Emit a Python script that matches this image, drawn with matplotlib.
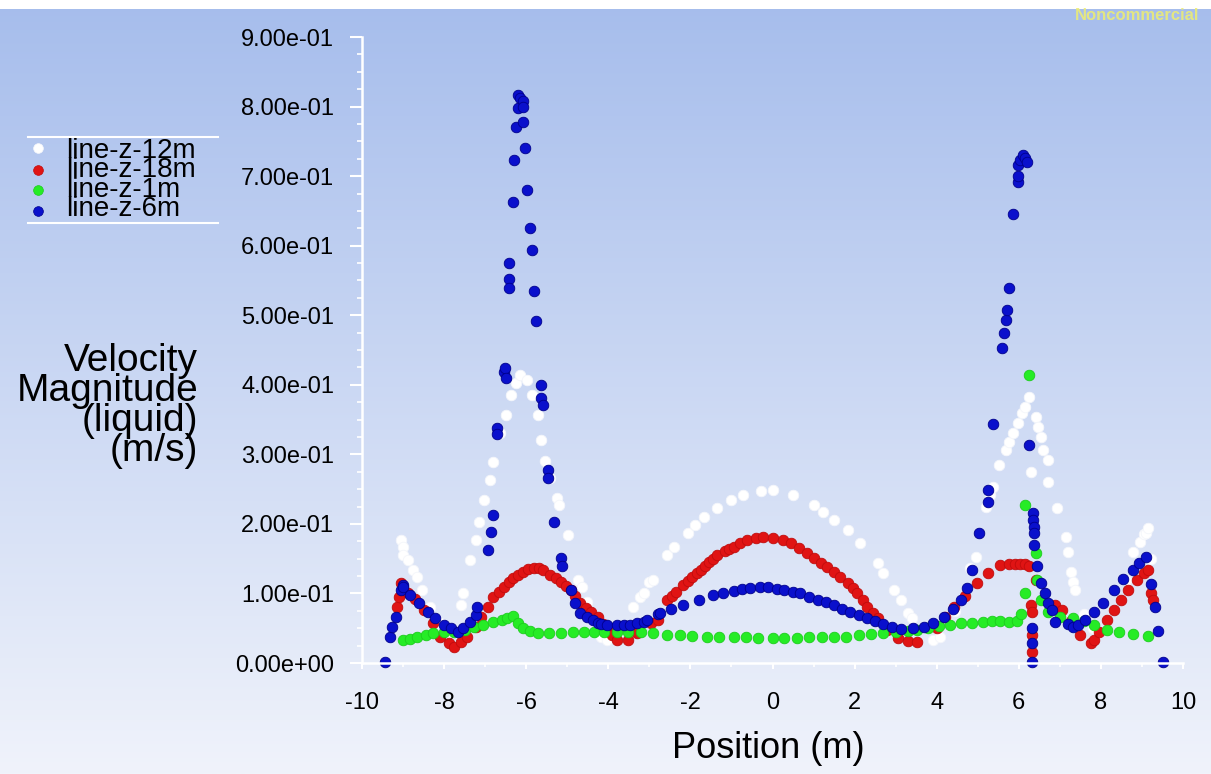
import numpy as np
import matplotlib.pyplot as plt
from matplotlib.ticker import MultipleLocator, FormatStrFormatter
from matplotlib.lines import Line2D

plt.rcParams['font.family'] = ['Liberation Sans', 'DejaVu Sans']
plt.rcParams['axes.unicode_minus'] = False

# velocity magnitude (m/s) along each line, as (position, value)
white_12m = [(-9.06, 0.177), (-9.01, 0.167), (-8.99, 0.155), (-8.87, 0.148), (-8.75, 0.134), (-8.65, 0.124),
             (-8.53, 0.105), (-8.35, 0.080), (-8.10, 0.058), (-7.85, 0.045), (-7.60, 0.083), (-7.53, 0.100),
             (-7.36, 0.148), (-7.23, 0.177), (-7.16, 0.203), (-7.04, 0.234), (-6.87, 0.263), (-6.80, 0.289),
             (-6.65, 0.330), (-6.50, 0.357), (-6.38, 0.385), (-6.26, 0.403), (-6.14, 0.414), (-5.97, 0.407),
             (-5.85, 0.385), (-5.72, 0.357), (-5.63, 0.320), (-5.53, 0.290), (-5.41, 0.266), (-5.24, 0.237),
             (-5.19, 0.227), (-4.99, 0.184), (-4.73, 0.119), (-4.63, 0.109), (-4.51, 0.088), (-4.36, 0.066),
             (-4.19, 0.037), (-4.02, 0.033), (-3.78, 0.040), (-3.53, 0.052), (-3.39, 0.080), (-3.22, 0.095),
             (-3.14, 0.100), (-3.02, 0.116), (-2.92, 0.119), (-2.56, 0.155), (-2.41, 0.167), (-2.07, 0.187),
             (-1.88, 0.198), (-1.68, 0.210), (-1.34, 0.223), (-1.02, 0.234), (-0.71, 0.241), (-0.29, 0.247),
             (0.00, 0.249), (0.51, 0.241), (1.00, 0.227), (1.24, 0.217), (1.49, 0.206), (1.83, 0.191),
             (2.14, 0.173), (2.56, 0.144), (2.70, 0.129), (2.95, 0.105), (3.12, 0.091), (3.29, 0.072),
             (3.41, 0.065), (3.92, 0.033), (4.09, 0.037), (4.45, 0.075), (4.82, 0.137), (4.95, 0.152),
             (5.19, 0.224), (5.31, 0.242), (5.38, 0.253), (5.51, 0.285), (5.68, 0.306), (5.75, 0.318),
             (5.85, 0.331), (5.97, 0.345), (6.09, 0.359), (6.16, 0.368), (6.24, 0.382), (6.29, 0.275),
             (6.41, 0.354), (6.46, 0.339), (6.53, 0.325), (6.60, 0.306), (6.70, 0.292), (6.72, 0.260),
             (6.94, 0.223), (7.14, 0.181), (7.19, 0.160), (7.26, 0.131), (7.33, 0.116), (7.38, 0.105),
             (7.60, 0.070), (7.80, 0.050), (8.60, 0.120), (8.79, 0.160), (8.96, 0.174), (9.04, 0.185),
             (9.09, 0.187), (9.14, 0.194), (9.21, 0.150)]

red_18m = [(-9.14, 0.080), (-9.11, 0.095), (-9.06, 0.115), (-8.99, 0.108), (-8.87, 0.100), (-8.70, 0.092),
           (-8.50, 0.076), (-8.28, 0.058), (-8.09, 0.037), (-7.89, 0.029), (-7.77, 0.023), (-7.60, 0.030),
           (-7.43, 0.037), (-7.23, 0.052), (-7.11, 0.066), (-6.94, 0.080), (-6.80, 0.095), (-6.67, 0.102),
           (-6.55, 0.109), (-6.43, 0.116), (-6.31, 0.122), (-6.19, 0.127), (-6.07, 0.131), (-5.95, 0.135),
           (-5.82, 0.137), (-5.70, 0.136), (-5.60, 0.134), (-5.41, 0.127), (-5.28, 0.122), (-5.16, 0.116),
           (-5.04, 0.111), (-4.92, 0.105), (-4.80, 0.096), (-4.68, 0.086), (-4.55, 0.079), (-4.43, 0.073),
           (-4.26, 0.066), (-4.14, 0.056), (-4.02, 0.047), (-3.90, 0.040), (-3.78, 0.033), (-3.53, 0.033),
           (-3.29, 0.043), (-2.97, 0.058), (-2.80, 0.062), (-2.56, 0.091), (-2.45, 0.097), (-2.35, 0.102),
           (-2.17, 0.112), (-2.06, 0.118), (-1.95, 0.123), (-1.85, 0.129), (-1.75, 0.134), (-1.65, 0.140),
           (-1.55, 0.145), (-1.45, 0.150), (-1.34, 0.155), (-1.15, 0.161), (-1.05, 0.164), (-0.95, 0.167),
           (-0.80, 0.172), (-0.61, 0.177), (-0.40, 0.180), (-0.22, 0.181), (0.02, 0.180), (0.25, 0.177),
           (0.44, 0.173), (0.65, 0.166), (0.85, 0.158), (1.00, 0.151), (1.17, 0.144), (1.33, 0.138),
           (1.49, 0.131), (1.65, 0.123), (1.83, 0.115), (1.95, 0.108), (2.07, 0.100), (2.20, 0.090),
           (2.31, 0.080), (2.44, 0.072), (2.56, 0.065), (2.80, 0.048), (3.05, 0.036), (3.30, 0.032),
           (3.53, 0.030), (4.00, 0.050), (4.20, 0.066), (4.41, 0.080), (4.70, 0.097), (4.99, 0.115),
           (5.24, 0.129), (5.55, 0.141), (5.75, 0.142), (5.90, 0.143), (6.04, 0.143), (6.16, 0.142),
           (6.26, 0.140), (6.41, 0.120), (6.29, 0.083), (6.33, 0.073), (6.33, 0.040), (6.33, 0.016),
           (6.89, 0.083), (7.06, 0.076), (7.26, 0.060), (7.50, 0.040), (7.75, 0.029), (7.82, 0.033),
           (7.95, 0.045), (8.16, 0.062), (8.31, 0.076), (8.48, 0.090), (8.67, 0.105), (8.89, 0.119),
           (9.04, 0.129), (9.14, 0.134), (9.21, 0.100), (9.28, 0.090)]

green_1m = [(-9.01, 0.033), (-8.82, 0.035), (-8.65, 0.037), (-8.45, 0.040), (-8.26, 0.043), (-8.00, 0.044),
            (-7.77, 0.045), (-7.50, 0.048), (-7.28, 0.052), (-7.05, 0.055), (-6.80, 0.059), (-6.60, 0.062),
            (-6.46, 0.065), (-6.31, 0.068), (-6.20, 0.058), (-6.07, 0.050), (-5.90, 0.046), (-5.72, 0.043),
            (-5.45, 0.043), (-5.16, 0.043), (-4.85, 0.044), (-4.60, 0.045), (-4.36, 0.045), (-4.10, 0.045),
            (-3.80, 0.045), (-3.53, 0.045), (-3.20, 0.044), (-2.90, 0.043), (-2.56, 0.040), (-2.25, 0.040),
            (-1.95, 0.039), (-1.60, 0.038), (-1.30, 0.038), (-0.95, 0.037), (-0.65, 0.037), (-0.35, 0.036),
            (0.00, 0.036), (0.27, 0.036), (0.60, 0.036), (0.90, 0.037), (1.20, 0.037), (1.49, 0.037),
            (1.80, 0.038), (2.10, 0.040), (2.40, 0.042), (2.70, 0.043), (3.00, 0.045), (3.30, 0.046),
            (3.53, 0.047), (3.80, 0.050), (4.05, 0.053), (4.33, 0.055), (4.60, 0.057), (4.85, 0.058),
            (5.14, 0.059), (5.35, 0.060), (5.55, 0.060), (5.75, 0.059), (5.95, 0.060), (6.06, 0.070),
            (6.14, 0.100), (6.16, 0.227), (6.24, 0.414), (6.41, 0.158), (6.45, 0.120), (6.55, 0.090),
            (6.72, 0.073), (7.00, 0.066), (7.33, 0.065), (7.60, 0.060), (7.82, 0.055), (8.16, 0.047),
            (8.43, 0.045), (8.77, 0.042), (9.14, 0.039)]

blue_6m = [(-9.43, 0.001), (-9.31, 0.037), (-9.26, 0.052), (-9.18, 0.066), (-9.06, 0.105), (-9.01, 0.112),
           (-8.99, 0.109), (-8.82, 0.098), (-8.62, 0.086), (-8.40, 0.073), (-8.21, 0.065), (-8.01, 0.055),
           (-7.84, 0.050), (-7.65, 0.045), (-7.53, 0.050), (-7.36, 0.059), (-7.23, 0.069), (-7.19, 0.080),
           (-6.92, 0.162), (-6.85, 0.188), (-6.80, 0.213), (-6.72, 0.338), (-6.70, 0.329), (-6.55, 0.418),
           (-6.52, 0.424), (-6.50, 0.410), (-6.41, 0.575), (-6.41, 0.552), (-6.41, 0.539), (-6.33, 0.663),
           (-6.29, 0.723), (-6.24, 0.771), (-6.19, 0.798), (-6.19, 0.817), (-6.14, 0.812), (-6.09, 0.808),
           (-6.07, 0.800), (-6.07, 0.778), (-6.04, 0.741), (-5.97, 0.680), (-5.90, 0.625), (-5.85, 0.594),
           (-5.82, 0.535), (-5.75, 0.492), (-5.65, 0.400), (-5.63, 0.381), (-5.60, 0.371), (-5.48, 0.277),
           (-5.46, 0.266), (-5.33, 0.203), (-5.16, 0.151), (-5.14, 0.139), (-4.92, 0.105), (-4.80, 0.086),
           (-4.68, 0.072), (-4.51, 0.066), (-4.38, 0.062), (-4.26, 0.058), (-4.19, 0.056), (-4.02, 0.055),
           (-3.78, 0.055), (-3.62, 0.055), (-3.46, 0.055), (-3.30, 0.057), (-3.14, 0.059), (-3.05, 0.062),
           (-2.80, 0.070), (-2.73, 0.072), (-2.48, 0.078), (-2.17, 0.083), (-1.80, 0.091), (-1.44, 0.098),
           (-1.20, 0.101), (-0.95, 0.104), (-0.75, 0.106), (-0.54, 0.108), (-0.30, 0.109), (-0.12, 0.109),
           (0.10, 0.107), (0.27, 0.105), (0.50, 0.102), (0.68, 0.100), (0.90, 0.095), (1.10, 0.091),
           (1.30, 0.087), (1.49, 0.083), (1.70, 0.078), (1.90, 0.073), (2.10, 0.069), (2.31, 0.065),
           (2.50, 0.060), (2.70, 0.056), (2.90, 0.052), (3.12, 0.049), (3.43, 0.050), (3.68, 0.052),
           (3.92, 0.058), (4.17, 0.066), (4.40, 0.078), (4.58, 0.091), (4.75, 0.108), (4.87, 0.134),
           (5.02, 0.187), (5.24, 0.232), (5.26, 0.249), (5.38, 0.344), (5.58, 0.453), (5.63, 0.474),
           (5.68, 0.493), (5.72, 0.507), (5.75, 0.539), (5.87, 0.645), (5.97, 0.691), (5.97, 0.700),
           (5.99, 0.716), (6.04, 0.723), (6.11, 0.730), (6.16, 0.726), (6.21, 0.720), (6.26, 0.313),
           (6.35, 0.216), (6.35, 0.205), (6.36, 0.195), (6.36, 0.187), (6.38, 0.170), (6.33, 0.050),
           (6.33, 0.029), (6.33, 0.001), (6.45, 0.140), (6.55, 0.115), (6.65, 0.100), (6.72, 0.086),
           (6.82, 0.076), (6.89, 0.059), (7.19, 0.056), (7.33, 0.052), (7.45, 0.055), (7.62, 0.062),
           (7.82, 0.073), (8.04, 0.086), (8.31, 0.105), (8.53, 0.121), (8.77, 0.134), (8.94, 0.144),
           (9.11, 0.152), (9.21, 0.114), (9.31, 0.081), (9.38, 0.046), (9.52, 0.001)]

series = [
    ('line-z-12m', white_12m, '#ffffff', '#f4f6fb'),
    ('line-z-18m', red_18m, '#e01414', '#c00c0c'),
    ('line-z-1m', green_1m, '#26ec26', '#1ccc1c'),
    ('line-z-6m', blue_6m, '#0a10cc', '#00008c'),
]

W, H = 1211, 774
fig = plt.figure(figsize=(W / 100, H / 100), dpi=100)

# soft blue-to-white backdrop
bg = fig.add_axes([0, 0, 1, 1], zorder=-10)
top = np.array([166, 189, 236]) / 255
bot = np.array([240, 243, 251]) / 255
t = np.linspace(0, 1, 300)[:, None, None]
bg.imshow(top * (1 - t) + bot * t, aspect='auto', extent=[0, 1, 0, 1])
bg.add_patch(plt.Rectangle((0, 1 - 9 / H), 1, 9 / H, color='white', lw=0))
bg.set_xlim(0, 1)
bg.set_ylim(0, 1)
bg.axis('off')

ax = fig.add_axes([362 / W, 1 - 663 / H, (1183 - 362) / W, (663 - 37) / H])
ax.patch.set_alpha(0)

for name, pts, face, edge in series:
    xs = [p[0] for p in pts]
    vs = [p[1] for p in pts]
    ax.scatter(xs, vs, s=58, c=face, edgecolors=edge, linewidths=0.6, clip_on=False)

ax.set_xlim(-10, 10)
ax.set_ylim(0, 0.9)

for side in ['top', 'right']:
    ax.spines[side].set_visible(False)
for side in ['left', 'bottom']:
    ax.spines[side].set_color('white')
    ax.spines[side].set_linewidth(1.8)

ax.yaxis.set_major_locator(MultipleLocator(0.1))
ax.yaxis.set_minor_locator(MultipleLocator(0.025))
ax.yaxis.set_major_formatter(FormatStrFormatter('%.2e'))
ax.xaxis.set_major_locator(MultipleLocator(2))
ax.xaxis.set_minor_locator(MultipleLocator(1))
ax.xaxis.set_major_formatter(FormatStrFormatter('%d'))

ax.tick_params(axis='y', which='major', direction='out', length=9, width=1.5, color='white',
               labelsize=17, labelcolor='black', pad=11)
ax.tick_params(axis='y', which='minor', direction='out', length=3.5, width=1.2, color='white')
ax.tick_params(axis='x', which='major', direction='out', length=4, width=1.5, color='white',
               labelsize=17, labelcolor='black', pad=17)
ax.tick_params(axis='x', which='minor', direction='out', length=3, width=1.2, color='white')

fig.text(768 / W, 1 - 748 / H, 'Position (m)', fontsize=26, ha='center', va='center')
fig.text(198 / W, 1 - 406 / H, 'Velocity\nMagnitude\n(liquid)\n(m/s)', fontsize=28,
         ha='right', va='center', multialignment='right', linespacing=0.78)

# legend block
for yl in (137, 223):
    fig.add_artist(Line2D([28 / W, 218 / W], [1 - yl / H] * 2, color='white', lw=1.5))
rows_base = [158, 177, 197, 216]
rows_mark = [148, 170, 190, 211]
for (name, pts, face, edge), yb, ym in zip(series, rows_base, rows_mark):
    fig.add_artist(Line2D([38 / W], [1 - ym / H], marker='o', ms=7, mfc=face, mec=edge,
                          mew=0.5, ls='none'))
    fig.text(66 / W, 1 - yb / H, name, fontsize=20, ha='left', va='baseline')

fig.text(1075 / W, 1 - 16 / H, 'Noncommercial', fontsize=12, fontweight='bold',
         color='#eeee70', ha='left', va='center', alpha=0.85)

fig.savefig('out.png', dpi=100)
